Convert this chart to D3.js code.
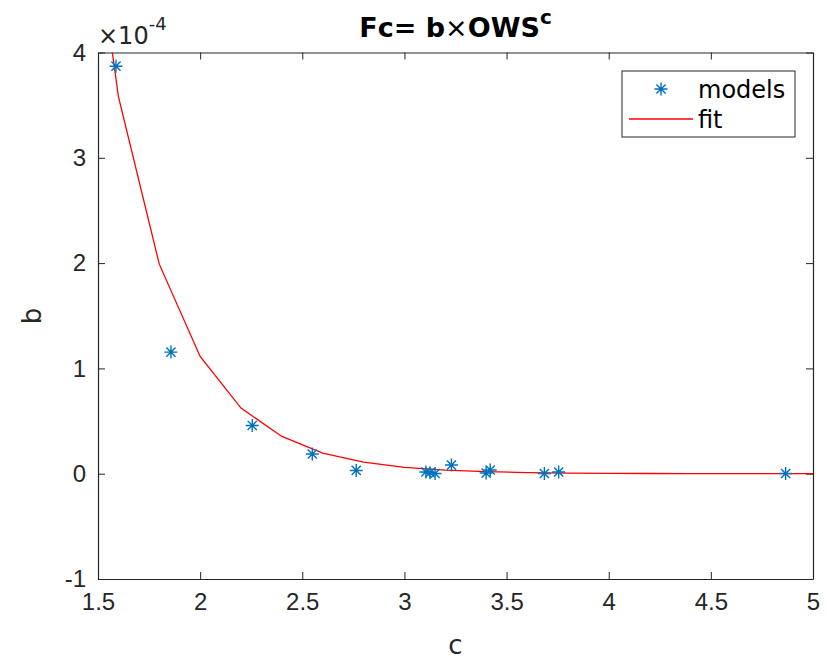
<!DOCTYPE html>
<html>
<head>
<meta charset="utf-8">
<script src="https://cdn.jsdelivr.net/npm/d3@7"></script>
<style>
  body { margin: 0; background: #fff; }
  svg { display: block; font-family: "DejaVu Sans", sans-serif; }
  .tick text { fill: #262626; font-size: 24px; }
  .tick line, .domain { stroke: #262626; }
</style>
</head>
<body>
<svg id="chart" width="827" height="659"></svg>
<script>
// Modelle: c (Exponent) und b (Faktor, in 1e-4)
const modelC = [1.588, 1.857, 2.255, 2.549, 2.764, 3.105, 3.125, 3.150, 3.230, 3.400, 3.420, 3.685, 3.755, 4.866];
const modelB = [3.87, 1.155, 0.458, 0.187, 0.031, 0.016, 0.010, 0.002, 0.082, 0.006, 0.035, 0.002, 0.016, 0.002];

// Fit-Kurve (Stützstellen, in 1e-4)
const fitC = [1.4, 1.6, 1.8, 2.0, 2.2, 2.4, 2.6, 2.8, 3.0, 3.2, 3.4, 3.6, 3.8, 4.0, 4.2, 4.4, 4.6, 4.8, 5.0];
const fitB = [6.4, 3.58, 1.99, 1.113, 0.623, 0.354, 0.196, 0.110, 0.061, 0.034, 0.019, 0.011, 0.006, 0.003, 0.002, 0.001, 0.0006, 0.0003, 0.0002];

const xTicks = [1.5, 2, 2.5, 3, 3.5, 4, 4.5, 5];
const yTicks = [-1, 0, 1, 2, 3, 4];

const svg = d3.select("#chart");
const mLeft = 98, mRight = 813, mTop = 52.5, mBottom = 579;

const x = d3.scaleLinear().domain([1.5, 5]).range([mLeft, mRight]);
const y = d3.scaleLinear().domain([-1, 4]).range([mBottom, mTop]);
const fmt = d => String(d);

// Clip
svg.append("defs").append("clipPath").attr("id", "clip")
  .append("rect").attr("x", mLeft).attr("y", mTop)
  .attr("width", mRight - mLeft).attr("height", mBottom - mTop);

// Achsen (Ticks nach innen, wie MATLAB)
const tl = 7;
svg.append("g").attr("transform", `translate(0,${mBottom})`)
  .call(d3.axisBottom(x).tickValues(xTicks).tickSize(-tl).tickSizeOuter(0).tickPadding(14).tickFormat(fmt))
  .call(g => g.selectAll("text").attr("dy", "0.71em"));
svg.append("g").attr("transform", `translate(0,${mTop})`)
  .call(d3.axisTop(x).tickValues(xTicks).tickSize(-tl).tickSizeOuter(0).tickFormat(""));
svg.append("g").attr("transform", `translate(${mLeft},0)`)
  .call(d3.axisLeft(y).tickValues(yTicks).tickSize(-tl).tickSizeOuter(0).tickPadding(12).tickFormat(fmt));
svg.append("g").attr("transform", `translate(${mRight},0)`)
  .call(d3.axisRight(y).tickValues(yTicks).tickSize(-tl).tickSizeOuter(0).tickFormat(""));
svg.selectAll(".domain").attr("stroke-width", 1.2);

// Fit-Linie
const line = d3.line().x((d, i) => x(fitC[i])).y(d => y(d));
svg.append("path")
  .attr("clip-path", "url(#clip)")
  .attr("d", line(fitB))
  .attr("fill", "none")
  .attr("stroke", "#ff0000")
  .attr("stroke-width", 1.3);

// Sternmarker
function star(g, r) {
  const a = r * Math.SQRT1_2;
  g.append("path")
    .attr("d", `M${-r},0H${r}M0,${-r}V${r}M${-a},${-a}L${a},${a}M${-a},${a}L${a},${-a}`)
    .attr("stroke", "#0072bd")
    .attr("stroke-width", 1.4)
    .attr("fill", "none");
}
svg.append("g").attr("clip-path", "url(#clip)")
  .selectAll("g")
  .data(modelB)
  .join("g")
  .attr("transform", (d, i) => `translate(${x(modelC[i])},${y(d)})`)
  .each(function() { star(d3.select(this), 6.5); });

// Exponent-Label
const expo = svg.append("text").attr("x", mLeft).attr("y", 44)
  .attr("fill", "#262626").style("font-size", "24px");
expo.append("tspan").text("×10");
expo.append("tspan").attr("dy", -14).style("font-size", "18px").text("-4");

// Titel
const title = svg.append("text")
  .attr("x", (mLeft + mRight) / 2).attr("y", 37)
  .attr("text-anchor", "middle")
  .style("font-size", "27px").style("font-weight", "bold").attr("fill", "#000");
title.append("tspan").text("Fc= b");
title.append("tspan").style("font-weight", "normal").text("×");
title.append("tspan").text("OWS");
title.append("tspan").attr("dy", -13).style("font-size", "20px").text("c");

// Achsenbeschriftungen
svg.append("text").attr("x", (mLeft + mRight) / 2).attr("y", 654)
  .attr("text-anchor", "middle").attr("fill", "#262626")
  .style("font-size", "26px").text("c");
svg.append("text").attr("transform", `translate(41,316) rotate(-90)`)
  .attr("text-anchor", "middle").attr("fill", "#262626")
  .style("font-size", "26px").text("b");

// Legende
const leg = svg.append("g");
leg.append("rect").attr("x", 622).attr("y", 71).attr("width", 173).attr("height", 66)
  .attr("fill", "#fff").attr("stroke", "#262626").attr("stroke-width", 1);
const lm = leg.append("g").attr("transform", "translate(661,89)");
star(lm, 6.5);
leg.append("text").attr("x", 698).attr("y", 98).attr("fill", "#000")
  .style("font-size", "24px").text("models");
leg.append("line").attr("x1", 629).attr("x2", 693).attr("y1", 119).attr("y2", 119)
  .attr("stroke", "#ff0000").attr("stroke-width", 1.3);
leg.append("text").attr("x", 698).attr("y", 128).attr("fill", "#000")
  .style("font-size", "24px").text("fit");
</script>
</body>
</html>
